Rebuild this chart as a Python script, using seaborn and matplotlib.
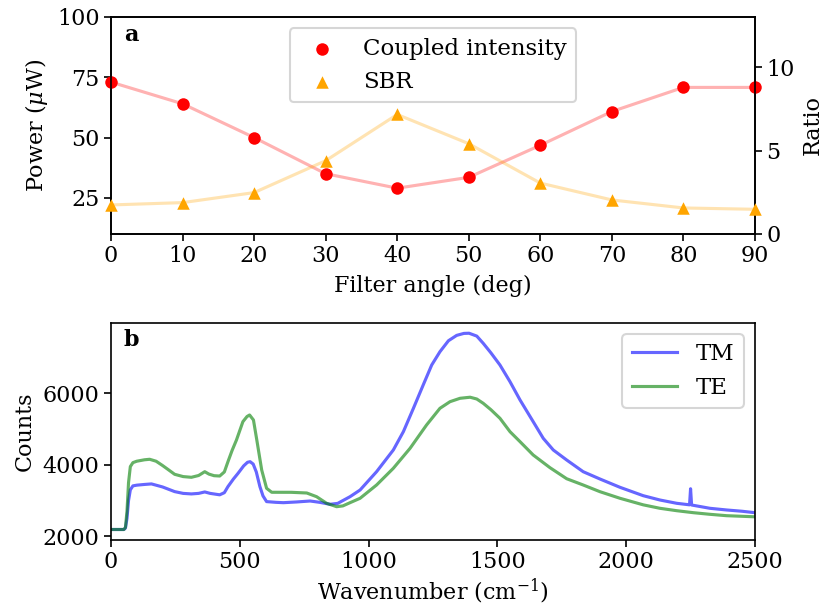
import matplotlib
matplotlib.use("Agg")
import matplotlib.pyplot as plt
import seaborn as sns

# ---- Panel a data ----
angles = [0, 10, 20, 30, 40, 50, 60, 70, 80, 90]
power = [73, 64, 50, 35, 29, 33.5, 46.8, 60.8, 70.8, 70.8]
sbr = [1.74, 1.88, 2.48, 4.39, 7.16, 5.41, 3.05, 2.04, 1.56, 1.48]

# ---- Panel b data ----
tm_wn = [0, 50, 56, 62, 68, 75, 85, 100, 130, 157, 200, 247, 280, 312, 340, 364,
         385, 422, 440, 454, 475, 493, 515, 530, 540, 552, 564, 578, 590, 604, 640,
         669, 720, 773, 810, 850, 880, 928, 967, 1031, 1096, 1135, 1174, 1212, 1245,
         1277, 1310, 1342, 1370, 1390, 1420, 1445, 1475, 1510, 1549, 1588, 1639, 1678,
         1717, 1769, 1833, 1898, 1976, 2066, 2131, 2196, 2246, 2250, 2254, 2325,
         2390, 2450, 2500]
tm_counts = [2190, 2190, 2230, 2500, 3000, 3300, 3410, 3430, 3450, 3465, 3380, 3250,
             3200, 3185, 3200, 3240, 3200, 3160, 3220, 3390, 3600, 3760, 3970, 4070,
             4087, 4020, 3800, 3390, 3130, 2970, 2950, 2940, 2960, 2987, 2950, 2895,
             2920, 3108, 3295, 3807, 4414, 4926, 5580, 6232, 6791, 7163, 7470, 7620,
             7675, 7680, 7600, 7398, 7130, 6791, 6324, 5812, 5206, 4741, 4414, 4134,
             3807, 3603, 3370, 3136, 3015, 2923, 2880, 3330, 2875, 2783, 2736, 2700,
             2660]

te_wn = [0, 50, 56, 62, 68, 75, 85, 100, 130, 150, 175, 200, 225, 247, 280, 312, 340,
         364, 380, 400, 422, 440, 454, 470, 487, 512, 528, 538, 553, 566, 585, 604,
         624, 700, 760, 798, 837, 876, 900, 928, 967, 1031, 1096, 1161, 1225, 1277,
         1316, 1355, 1394, 1420, 1445, 1475, 1510, 1549, 1588, 1639, 1704, 1769,
         1833, 1898, 1976, 2066, 2131, 2196, 2261, 2325, 2390, 2500]
te_counts = [2190, 2190, 2250, 2700, 3500, 3950, 4060, 4100, 4140, 4154, 4100, 3980,
             3850, 3734, 3670, 3650, 3700, 3807, 3740, 3695, 3686, 3800, 4087, 4400,
             4693, 5206, 5350, 5393, 5253, 4693, 3854, 3342, 3231, 3230, 3211, 3108,
             2923, 2828, 2850, 2940, 3063, 3435, 3902, 4461, 5113, 5580, 5765, 5860,
             5890, 5840, 5720, 5540, 5300, 4926, 4646, 4274, 3920, 3610, 3435, 3248,
             3063, 2880, 2783, 2716, 2660, 2615, 2576, 2545]

FS = 10.7
plt.rcParams.update({
    "font.family": ["DejaVu Serif"],
    "mathtext.fontset": "dejavuserif",
    "font.size": FS,
    "axes.labelsize": FS,
    "xtick.labelsize": FS,
    "ytick.labelsize": FS,
    "legend.fontsize": 11,
    "axes.linewidth": 0.8,
    "xtick.major.pad": 2.0,
    "ytick.major.pad": 2.0,
    "axes.labelpad": 3.5,
})

fig = plt.figure(figsize=(826 / 150, 607 / 150), dpi=150)
ax1 = fig.add_axes([0.1344, 0.6145, 0.9140 - 0.1344, 0.9720 - 0.6145])
ax3 = fig.add_axes([0.1344, 0.1109, 0.9140 - 0.1344, 0.4684 - 0.1109])

# Panel a
sns.lineplot(x=angles, y=power, color="red", alpha=0.3, ax=ax1, lw=1.5)
sns.scatterplot(x=angles, y=power, color="red", marker="o", s=36, linewidth=0,
                ax=ax1, label="Coupled intensity", zorder=3, clip_on=False)
ax2 = ax1.twinx()
sns.lineplot(x=angles, y=sbr, color="orange", alpha=0.3, ax=ax2, lw=1.5)
sns.scatterplot(x=angles, y=sbr, color="orange", marker="^", s=36, linewidth=0,
                ax=ax2, label="SBR", zorder=3, clip_on=False)
ax1.set_xlim(0, 90)
ax1.set_ylim(10, 100)
ax1.set_yticks([25, 50, 75, 100])
ax1.set_xticks(angles)
ax2.set_ylim(0, 13)
ax2.set_yticks([0, 5, 10])
ax1.set_xlabel("Filter angle (deg)")
ax1.set_ylabel(r"Power ($\mu$W)")
ax2.set_ylabel("Ratio")
h1, l1 = ax1.get_legend_handles_labels()
h2, l2 = ax2.get_legend_handles_labels()
if ax1.get_legend() is not None:
    ax1.get_legend().remove()
if ax2.get_legend() is not None:
    ax2.get_legend().remove()
ax2.legend(h1 + h2, l1 + l2, loc="upper center", labelspacing=0.5)
ax1.text(0.02, 0.97, "a", transform=ax1.transAxes, fontweight="bold",
         ha="left", va="top")

# Panel b
sns.lineplot(x=tm_wn, y=tm_counts, color="blue", alpha=0.6, ax=ax3, lw=1.5,
             label="TM")
sns.lineplot(x=te_wn, y=te_counts, color="green", alpha=0.6, ax=ax3, lw=1.5,
             label="TE")
ax3.set_xlim(0, 2500)
ax3.set_ylim(1905, 7975)
ax3.set_yticks([2000, 4000, 6000])
ax3.set_xticks([0, 500, 1000, 1500, 2000, 2500])
ax3.set_xlabel(r"Wavenumber (cm$^{-1}$)", labelpad=1.5)
ax3.set_ylabel("Counts")
ax3.legend(loc="upper right", labelspacing=0.5, handlelength=2.0)
ax3.text(0.02, 0.97, "b", transform=ax3.transAxes, fontweight="bold",
         ha="left", va="top")

fig.savefig("out.png", dpi=150)
